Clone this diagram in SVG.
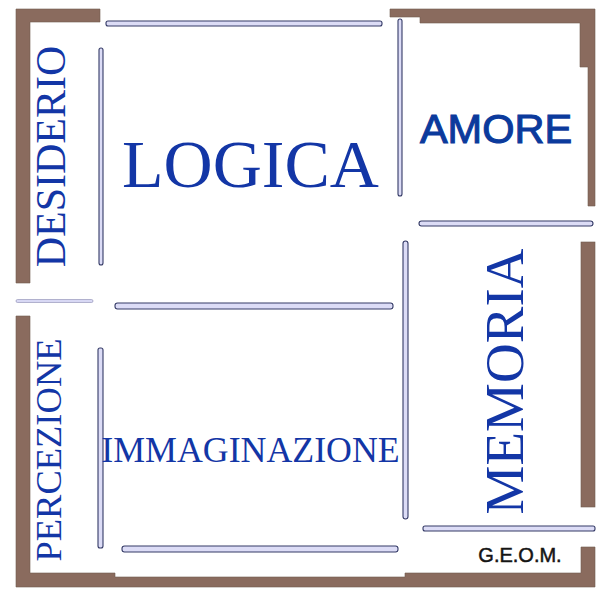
<svg xmlns="http://www.w3.org/2000/svg" width="611" height="600" viewBox="0 0 611 600">
<style>
.wall{fill:#8a6b5e;stroke:#6f5a4e;stroke-width:0.6}
.iw{fill:#dcdcf6;stroke:#343a66;stroke-width:1.1}
.serif{font-family:"Liberation Serif","Times New Roman",serif;fill:#1336a6}
.sans{font-family:"Liberation Sans",Arial,sans-serif}
</style>
<rect width="611" height="600" fill="#ffffff"/>
<g id="outer-walls">
<polygon class="wall" points="16,9 100,9 100,22 30,22 30,283 16,283"/>
<polygon class="wall" points="390,9 595,9 595,206 588,206 588,67 580,67 580,23 420,23 420,17 390,17"/>
<rect class="wall" x="581" y="242" width="14" height="265"/>
<polygon class="wall" points="16,316 30,316 30,573 115,573 115,577 405,577 405,573 581,573 581,547 595,547 595,587 16,587"/>
</g>
<g id="inner-walls">
<rect class="iw" x="106" y="21" width="276" height="5" rx="2"/>
<rect class="iw" x="99" y="48" width="4" height="217" rx="2"/>
<rect class="iw" x="398" y="19" width="4" height="177" rx="2"/>
<rect class="iw" x="419" y="221" width="174" height="5" rx="2.5"/>
<rect x="16" y="299.5" width="77" height="3" rx="1.5" fill="#d8d8f4" stroke="#8a8ab0" stroke-width="0.6"/>
<rect class="iw" x="115" y="303" width="278" height="6" rx="2.5"/>
<rect class="iw" x="403" y="241" width="5" height="278" rx="2.5"/>
<rect class="iw" x="98" y="348" width="5" height="200" rx="2"/>
<rect class="iw" x="122" y="546" width="276" height="6" rx="2.5"/>
<rect class="iw" x="423" y="526" width="172" height="5" rx="2"/>
</g>
<g id="desiderio"><text class="serif" font-size="42" text-anchor="middle" transform="translate(65,156.5) rotate(-90)">DESIDERIO</text></g>
<g id="logica"><text class="serif" x="250.5" y="187" font-size="68" text-anchor="middle">LOGICA</text></g>
<g id="amore"><text class="sans" x="496" y="143" font-size="41.5" text-anchor="middle" fill="#0b3a9c" stroke="#0b3a9c" stroke-width="1.1">AMORE</text></g>
<g id="memoria"><text class="serif" font-size="55" text-anchor="middle" transform="translate(523,381.5) rotate(-90)">MEMORIA</text></g>
<g id="percezione"><text class="serif" font-size="36.5" text-anchor="middle" transform="translate(61,450) rotate(-90)">PERCEZIONE</text></g>
<g id="immaginazione"><text class="serif" x="250.5" y="462" font-size="35.8" text-anchor="middle">IMMAGINAZIONE</text></g>
<g id="geom"><text class="sans" x="520" y="562" font-size="20" text-anchor="middle" fill="#151515" stroke="#151515" stroke-width="0.5">G.E.O.M.</text></g>
</svg>
